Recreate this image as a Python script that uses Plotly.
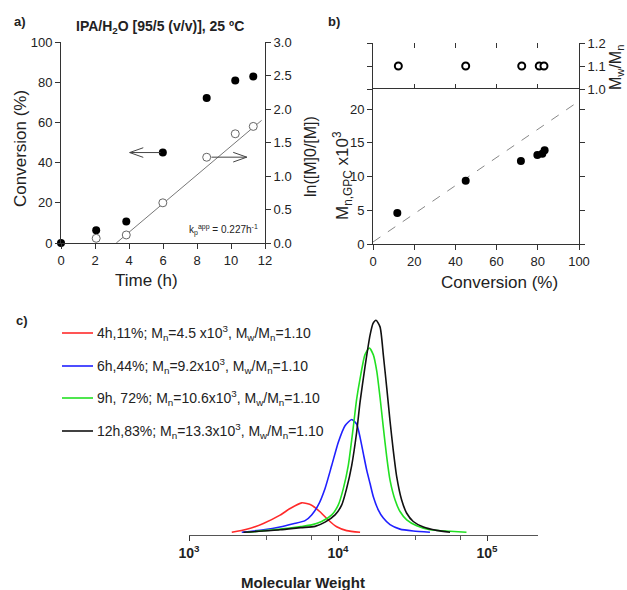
import plotly.graph_objects as go

W, H = 627, 590
FONT = "Liberation Sans, Arial, sans-serif"
TXT = "#222222"

# ---------------- panel a data ----------------
TIME_CONV = [0.0, 2.07, 3.84, 5.99, 8.57, 10.25, 11.31]
CONV = [0.0, 6.3, 10.7, 45.0, 72.2, 80.8, 82.8]
TIME_LN = [2.07, 3.84, 5.99, 8.57, 10.25, 11.31]
LN_M0_M = [0.07, 0.12, 0.60, 1.28, 1.63, 1.74]
FIT_T = [3.25, 11.8]
FIT_LN = [0.0, 1.83]
# guide arrows (tail time, head time, conversion level)
ARROW_LEFT = (5.85, 4.04, 45.0)
ARROW_RIGHT = (8.85, 10.93, 42.7)

# ---------------- panel b data ----------------
PDI_CONV = [12.3, 45.0, 72.2, 80.7, 83.0]
PDI = [1.10, 1.10, 1.10, 1.10, 1.10]
MN_CONV = [11.8, 45.0, 71.8, 79.8, 82.2, 83.3]
MN_GPC = [4.6, 9.4, 12.3, 13.2, 13.4, 13.9]
THEO_CONV = [0, 100]
THEO_MN = [0.3, 21.2]

# ---------------- panel c data (log10 M, normalised RI) ----------------
RED_LOGM = [3.287, 3.387, 3.499, 3.611, 3.678, 3.756, 3.823, 3.879, 3.935, 3.991, 4.058, 4.148]
RED_H = [0.0, 0.014, 0.042, 0.081, 0.112, 0.139, 0.128, 0.097, 0.058, 0.026, 0.008, 0.0]
BLUE_LOGM = [3.354, 3.50, 3.61, 3.70, 3.779, 3.823, 3.868, 3.913, 3.958, 4.002, 4.047, 4.092,
             4.125, 4.148, 4.170, 4.193, 4.215, 4.237, 4.270, 4.304, 4.349, 4.416, 4.505, 4.617]
BLUE_H = [0.0, 0.012, 0.025, 0.040, 0.055, 0.082, 0.129, 0.207, 0.316, 0.425, 0.503, 0.532,
          0.510, 0.448, 0.371, 0.292, 0.230, 0.168, 0.106, 0.067, 0.036, 0.015, 0.006, 0.0]
GREEN_LOGM = [3.387, 3.61, 3.75, 3.823, 3.890, 3.958, 4.002, 4.036, 4.069, 4.103, 4.125, 4.148,
              4.181, 4.210, 4.237, 4.260, 4.282, 4.304, 4.327, 4.349, 4.383, 4.416, 4.461,
              4.528, 4.617, 4.752, 4.862]
GREEN_H = [0.0, 0.015, 0.027, 0.035, 0.051, 0.082, 0.129, 0.207, 0.316, 0.50, 0.628, 0.725,
           0.838, 0.869, 0.837, 0.760, 0.636, 0.495, 0.355, 0.246, 0.152, 0.098, 0.059,
           0.031, 0.012, 0.005, 0.0]
BLACK_LOGM = [3.365, 3.611, 3.75, 3.846, 3.913, 3.980, 4.025, 4.058, 4.092, 4.125, 4.148, 4.181,
              4.215, 4.235, 4.255, 4.282, 4.304, 4.327, 4.349, 4.371, 4.394, 4.427, 4.461,
              4.505, 4.573, 4.662, 4.752]
BLACK_H = [0.0, 0.012, 0.022, 0.028, 0.048, 0.082, 0.129, 0.207, 0.316, 0.472, 0.615, 0.78,
           0.93, 0.985, 1.0, 0.969, 0.837, 0.681, 0.525, 0.385, 0.261, 0.152, 0.090,
           0.051, 0.025, 0.009, 0.0]
GPC_LABELS = [
    "4h,11%; M<sub>n</sub>=4.5 x10<sup>3</sup>, M<sub>w</sub>/M<sub>n</sub>=1.10",
    "6h,44%; M<sub>n</sub>=9.2x10<sup>3</sup>, M<sub>w</sub>/M<sub>n</sub>=1.10",
    "9h, 72%; M<sub>n</sub>=10.6x10<sup>3</sup>, M<sub>w</sub>/M<sub>n</sub>=1.10",
    "12h,83%; M<sub>n</sub>=13.3x10<sup>3</sup>, M<sub>w</sub>/M<sub>n</sub>=1.10",
]
GPC_COLORS = ["#ff2a2a", "#2020ff", "#22e022", "#111111"]
MW_TICKS = [1e3, 1e4, 1e5]
MW_TICKTEXT = ["<b>10<sup>3</sup></b>", "<b>10<sup>4</sup></b>", "<b>10<sup>5</sup></b>"]
MW_MINOR = [3300, 6600, 33000, 66000]


def px(x):
    return x / W


def py(y):
    return 1 - y / H


fig = go.Figure()

# ---- panel a traces ----
fig.add_trace(go.Scatter(x=FIT_T, y=FIT_LN, mode="lines", xaxis="x", yaxis="y2",
                         line=dict(color="#777777", width=1), showlegend=False))
fig.add_trace(go.Scatter(x=TIME_CONV, y=CONV, mode="markers", xaxis="x", yaxis="y",
                         marker=dict(color="black", size=8), cliponaxis=False, showlegend=False))
fig.add_trace(go.Scatter(x=TIME_LN, y=LN_M0_M, mode="markers", xaxis="x", yaxis="y2",
                         marker=dict(color="white", size=8, line=dict(color="#666666", width=1)),
                         cliponaxis=False, showlegend=False))

# ---- panel b traces ----
fig.add_trace(go.Scatter(x=THEO_CONV, y=THEO_MN, mode="lines", xaxis="x3", yaxis="y3",
                         line=dict(color="#888888", width=1, dash="dash"), showlegend=False))
fig.add_trace(go.Scatter(x=MN_CONV, y=MN_GPC, mode="markers", xaxis="x3", yaxis="y3",
                         marker=dict(color="black", size=8), showlegend=False))
fig.add_trace(go.Scatter(x=PDI_CONV, y=PDI, mode="markers", xaxis="x4", yaxis="y4",
                         marker=dict(color="white", size=7, line=dict(color="black", width=2)),
                         cliponaxis=False, showlegend=False))

# ---- panel c traces ----
for lm, h, c in [(RED_LOGM, RED_H, GPC_COLORS[0]), (BLUE_LOGM, BLUE_H, GPC_COLORS[1]),
                 (GREEN_LOGM, GREEN_H, GPC_COLORS[2]), (BLACK_LOGM, BLACK_H, GPC_COLORS[3])]:
    fig.add_trace(go.Scatter(x=[10 ** v for v in lm], y=h, mode="lines", xaxis="x5", yaxis="y5",
                             line=dict(color=c, width=1.6, shape="spline", smoothing=0.6),
                             showlegend=False))

tickf = dict(family=FONT, size=13, color=TXT)
ax_common = dict(showgrid=False, zeroline=False, linecolor="#333333", linewidth=1,
                 tickcolor="#333333", ticklen=5, tickfont=tickf, automargin=False)

layout = dict(
    width=W, height=H, margin=dict(l=0, r=0, t=0, b=0, autoexpand=False),
    paper_bgcolor="white", plot_bgcolor="rgba(0,0,0,0)",
    font=dict(family=FONT, color=TXT),
    xaxis=dict(ax_common, domain=[px(61), px(265)], range=[0, 12], anchor="y",
               tickvals=[0, 2, 4, 6, 8, 10, 12], ticks="outside", showline=True),
    yaxis=dict(ax_common, domain=[py(243), py(42)], range=[0, 100], anchor="x",
               tickvals=[0, 20, 40, 60, 80, 100], ticks="outside", showline=True),
    yaxis2=dict(ax_common, overlaying="y", side="right", range=[0, 3], anchor="x",
                tickvals=[0, 0.5, 1.0, 1.5, 2.0, 2.5, 3.0], tickformat=".1f",
                ticks="outside", showline=True),
    xaxis3=dict(ax_common, domain=[px(373), px(579)], range=[0, 100], anchor="y3",
                tickvals=[0, 20, 40, 60, 80, 100], ticks="outside", showline=True, mirror=True),
    yaxis3=dict(ax_common, domain=[py(244), py(89)], range=[0, 23], anchor="x3",
                tickvals=[0, 5, 10, 15, 20], ticks="outside", showline=True, mirror="ticks"),
    xaxis4=dict(ax_common, domain=[px(373), px(579)], range=[0, 100], anchor="y4",
                tickvals=[20, 40, 60, 80], ticks="inside", showticklabels=False,
                showline=False, mirror="ticks"),
    yaxis4=dict(ax_common, domain=[py(89), py(43)], range=[1.0, 1.2], anchor="x4", side="right",
                tickvals=[1.0, 1.1, 1.2], tickformat=".1f", ticks="outside",
                showline=True, mirror="ticks"),
    xaxis5=dict(ax_common, domain=[px(189), px(538)], type="log", range=[3, 5.342], anchor="y5",
                tickvals=MW_TICKS, ticktext=MW_TICKTEXT, ticks="outside", showline=True,
                linecolor="#555555", tickfont=dict(family=FONT, size=14, color=TXT),
                minor=dict(tickvals=MW_MINOR, ticks="outside", ticklen=4, tickcolor="#555555")),
    yaxis5=dict(domain=[py(535), py(309.7)], range=[-0.0127, 1.05], anchor="x5",
                visible=False, showgrid=False, zeroline=False),
)
fig.update_layout(**layout)

ann = []


def text(x, y, s, size, bold=False, angle=0, xanchor="center", color=TXT):
    ann.append(dict(x=px(x), y=py(y), xref="paper", yref="paper", text=("<b>%s</b>" % s) if bold else s,
                    showarrow=False, textangle=angle, xanchor=xanchor, yanchor="middle",
                    font=dict(family=FONT, size=size, color=color)))


# panel labels and titles
text(12, 22, "a)", 13, bold=True, xanchor="left")
text(160, 27, "IPA/H<sub>2</sub>O [95/5 (v/v)], 25 ºC", 14, bold=True)
text(20, 149, "Conversion (%)", 17, angle=-90)
text(146, 280, "Time (h)", 17)
text(310, 157, "ln([M]0/[M])", 16, angle=-90)
ann.append(dict(x=9.55, y=0.2, xref="x", yref="y2", showarrow=False,
                text="k<sub>p</sub><sup>app</sup> = 0.227h<sup>-1</sup>",
                font=dict(family=FONT, size=10, color=TXT)))

text(326, 22, "b)", 13, bold=True, xanchor="left")
text(343, 176, "M<sub>n,GPC</sub> x10<sup>3</sup>", 17, angle=-90)
text(617, 68, "M<sub>w</sub>/M<sub>n</sub>", 16, angle=-90)
text(499, 282, "Conversion (%)", 17)

text(14, 320, "c)", 13, bold=True, xanchor="left")
text(303, 582, "Molecular Weight", 15, bold=True)

shapes = []
# open-V guide arrows in panel a (data coordinates of axis x / y)
HEAD_DX, HEAD_DY = 0.8, 2.4   # arrow-head wing length in data units
for tail, head, lvl in [ARROW_LEFT, ARROW_RIGHT]:
    sgn = 1 if tail > head else -1
    for x0, y0 in [(tail, lvl), (head + sgn * HEAD_DX, lvl + HEAD_DY), (head + sgn * HEAD_DX, lvl - HEAD_DY)]:
        shapes.append(dict(type="line", xref="x", yref="y", x0=x0, y0=y0, x1=head, y1=lvl,
                           line=dict(color="#444444", width=1)))

rows = [333, 366, 398, 431]
for lab, col, yy in zip(GPC_LABELS, GPC_COLORS, rows):
    shapes.append(dict(type="line", xref="paper", yref="paper", x0=px(62), x1=px(93),
                       y0=py(yy), y1=py(yy), line=dict(color=col, width=1.6)))
    text(95, yy, lab, 14, xanchor="left")

fig.update_layout(annotations=ann, shapes=shapes)
fig.write_html("out.html", config={"displayModeBar": False},
               post_script="document.body.style.margin='0';document.body.style.overflow='hidden';")
